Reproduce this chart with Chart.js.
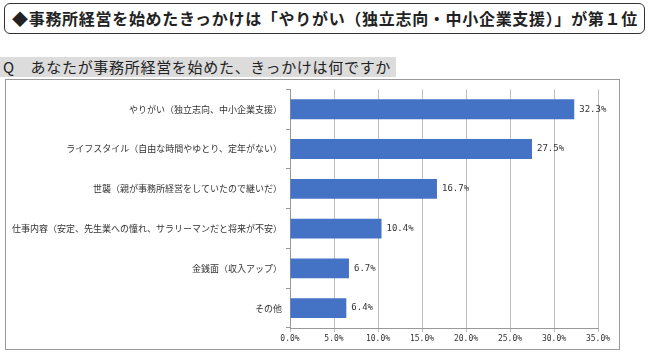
<!DOCTYPE html>
<html>
<head>
<meta charset="utf-8">
<script src="https://cdn.jsdelivr.net/npm/chart.js@4"></script>
<style>
  body { margin: 0; background: #fff; font-family: "Noto Sans CJK JP", sans-serif; }
  #title {
    position: absolute; left: 4px; top: 3px; width: 641px; height: 31px;
    border: 1px solid #333; border-radius: 6px; box-sizing: border-box;
    font-size: 16px; font-weight: bold; line-height: 29px; color: #222;
    padding-left: 7px; letter-spacing: 0.7px;
  }
  #question {
    position: absolute; left: 0; top: 57px; height: 20px; width: 396px;
    background: #dcdcdc; font-size: 15px; line-height: 20px; color: #222;
    padding-left: 3px; box-sizing: border-box; letter-spacing: 0.7px;
  }
  #box {
    position: absolute; left: 5px; top: 79px; width: 615px; height: 271px;
    border: 1px solid #999; box-sizing: border-box;
  }
</style>
</head>
<body>
<div id="title">◆事務所経営を始めたきっかけは「やりがい（独立志向・中小企業支援）」が第１位</div>
<div id="question">Q　あなたが事務所経営を始めた、きっかけは何ですか</div>
<div id="box"><canvas id="chartReason"></canvas></div>
<script>
const categories = [
  'やりがい（独立志向、中小企業支援）',
  'ライフスタイル（自由な時間やゆとり、定年がない）',
  '世襲（親が事務所経営をしていたので継いだ）',
  '仕事内容（安定、先生業への憧れ、サラリーマンだと将来が不安）',
  '金銭面（収入アップ）',
  'その他'
];
const percents = [32.3, 27.5, 16.7, 10.4, 6.7, 6.4];
const xTicks = [0, 5, 10, 15, 20, 25, 30, 35];

const labelPlugin = {
  id: 'valueLabels',
  afterDatasetsDraw(chart) {
    const ctx = chart.ctx;
    ctx.save();
    ctx.font = '9px "DejaVu Sans Mono", monospace';
    ctx.fillStyle = '#333';
    ctx.textBaseline = 'middle';
    chart.getDatasetMeta(0).data.forEach((bar, i) => {
      ctx.fillText(percents[i].toFixed(1) + '%', bar.x + 5, bar.y);
    });
    ctx.restore();
  }
};

const chartReason = document.getElementById('chartReason');
chartReason.width = 613;
chartReason.height = 269;

new Chart(chartReason, {
  type: 'bar',
  data: {
    labels: categories,
    datasets: [{
      data: percents,
      backgroundColor: '#4472C4',
      borderWidth: 0,
      categoryPercentage: 1,
      barPercentage: 0.5
    }]
  },
  options: {
    indexAxis: 'y',
    responsive: false,
    animation: false,
    layout: { padding: { top: 3, right: 21, left: 0, bottom: 0 } },
    plugins: { legend: { display: false }, tooltip: { enabled: false } },
    scales: {
      x: {
        min: 0, max: 35,
        afterBuildTicks(scale) { scale.ticks = xTicks.map(v => ({ value: v })); },
        afterFit(scale) { scale.height = 21; },
        grid: { color: '#bdbdbd', tickLength: 4 },
        border: { color: '#999' },
        ticks: {
          color: '#333',
          padding: 2,
          font: { size: 8, family: '"DejaVu Sans Mono", monospace' },
          callback: v => v.toFixed(1) + '%'
        }
      },
      y: {
        afterFit(scale) { scale.width = 284; },
        grid: { offset: true, drawOnChartArea: false, tickLength: 4, color: '#999' },
        border: { color: '#999' },
        ticks: {
          color: '#333',
          padding: 4,
          font: { size: 9, family: '"Noto Sans CJK JP", sans-serif' }
        }
      }
    }
  },
  plugins: [labelPlugin]
});
</script>
</body>
</html>
